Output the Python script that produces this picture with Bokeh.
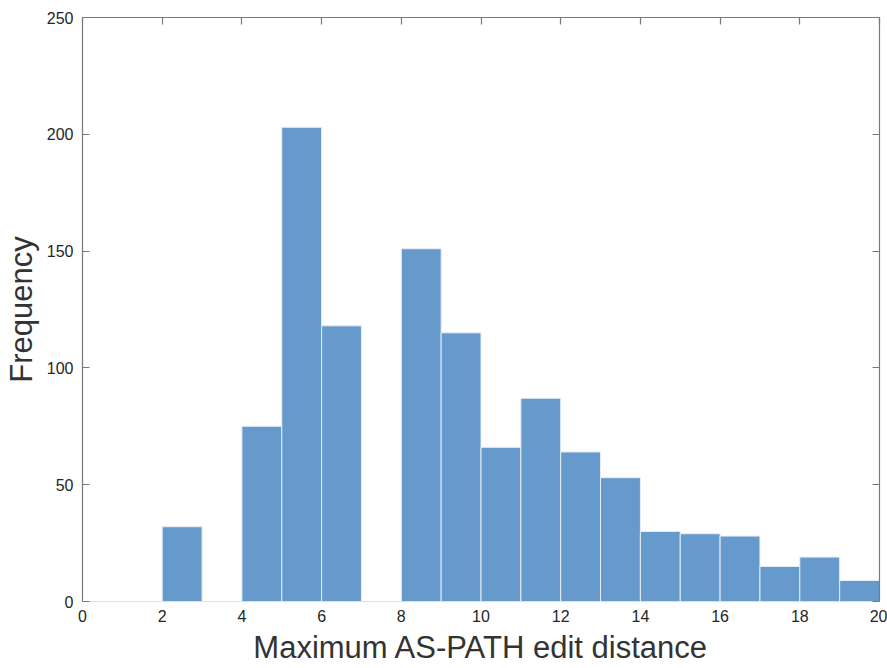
from bokeh.plotting import figure
from bokeh.models import LinearAxis, FixedTicker, Range1d
from bokeh.embed import file_html
from bokeh.resources import INLINE

# Histogram of maximum AS-PATH edit distance (unit-width bins)
bin_left = [2, 3, 4, 5, 6, 7, 8, 9, 10, 11, 12, 13, 14, 15, 16, 17, 18, 19]
counts = [32, 0, 75, 203, 118, 0, 151, 115, 66, 87, 64, 53, 30, 29, 28, 15, 19, 9]
x_ticks = [0, 2, 4, 6, 8, 10, 12, 14, 16, 18, 20]
y_ticks = [0, 50, 100, 150, 200, 250]

bin_right = [b + 1 for b in bin_left]
zeros = [0] * len(counts)

FONT = "Liberation Sans"
AXIS_COLOR = "#7a7a7a"
TEXT_COLOR = "#262626"

p = figure(width=887, height=668, output_backend="svg", toolbar_location=None,
           x_range=Range1d(0, 20), y_range=Range1d(0, 250),
           x_axis_location=None, y_axis_location=None,
           min_border_left=82, min_border_right=8, min_border_top=17, min_border_bottom=67)
p.outline_line_color = None
p.grid.visible = False
p.background_fill_color = "white"
p.border_fill_color = "white"

p.quad(left=bin_left, right=bin_right, bottom=zeros, top=counts,
       fill_color="#6699CC", line_color="#E6EDF5", line_width=1)


def style(ax):
    ax.axis_line_color = AXIS_COLOR
    ax.axis_line_width = 1.2
    ax.major_tick_line_color = AXIS_COLOR
    ax.major_tick_line_width = 1.2
    ax.major_tick_in = 7
    ax.major_tick_out = 0
    ax.minor_tick_line_color = None
    ax.major_label_text_font = FONT
    ax.major_label_text_font_size = "16px"
    ax.major_label_text_color = TEXT_COLOR
    ax.axis_label_text_font = FONT
    ax.axis_label_text_font_size = "31px"
    ax.axis_label_text_font_style = "normal"
    ax.axis_label_text_color = "#333333"


def box_side(ticks):
    # unlabeled axis that closes the box, ticks pointing inward
    ax = LinearAxis(ticker=FixedTicker(ticks=ticks))
    style(ax)
    ax.major_label_overrides = {t: "" for t in ticks}
    ax.major_label_standoff = 0
    return ax


bottom = LinearAxis(ticker=FixedTicker(ticks=x_ticks), axis_label="Maximum AS-PATH edit distance")
style(bottom)
bottom.axis_line_color = "#e0e0e0"
bottom.major_tick_in = 0
bottom.major_label_standoff = 8
bottom.axis_label_standoff = 5
p.add_layout(bottom, "below")

left = LinearAxis(ticker=FixedTicker(ticks=y_ticks), axis_label="Frequency")
style(left)
left.major_label_standoff = 9
left.axis_label_standoff = 5
p.add_layout(left, "left")

p.add_layout(box_side(x_ticks), "above")
p.add_layout(box_side(y_ticks), "right")

open("out.html", "w").write(file_html(p, INLINE))
